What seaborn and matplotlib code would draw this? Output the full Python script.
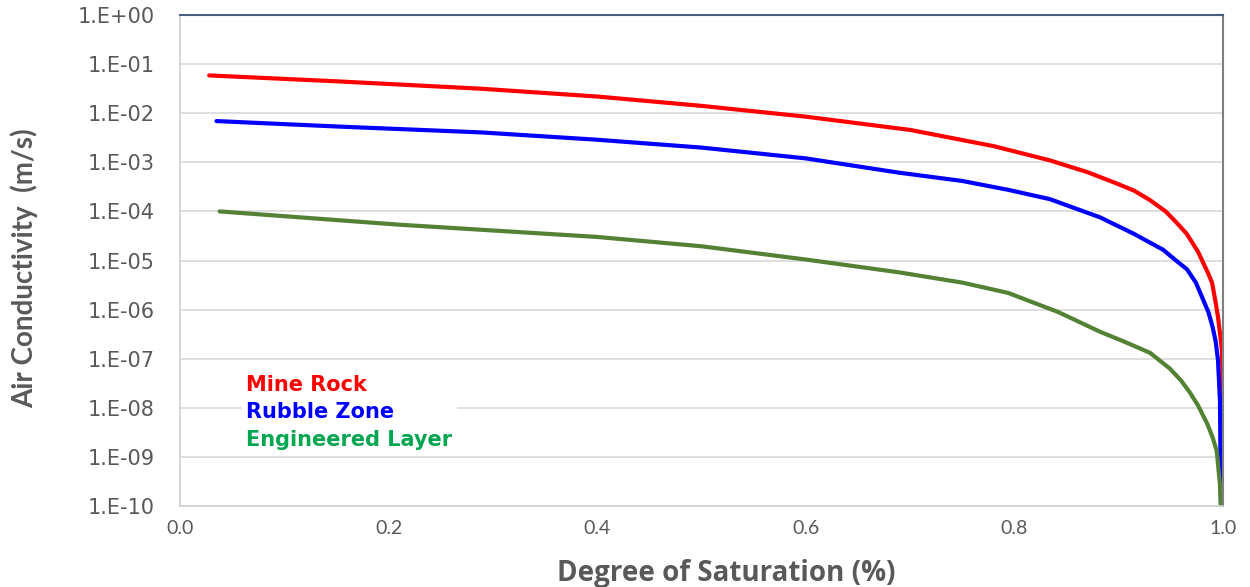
import matplotlib
matplotlib.use("Agg")
import matplotlib.pyplot as plt
import matplotlib.ticker as mticker
import numpy as np
import pandas as pd
import seaborn as sns

# degree of saturation (x) and log10 of air conductivity (y)
mine_rock_s = [0.028, 0.15, 0.288, 0.40, 0.50, 0.60, 0.70, 0.78, 0.834, 0.87,
               0.898, 0.915, 0.930, 0.945, 0.956, 0.965, 0.971, 0.976, 0.980,
               0.9855, 0.9895, 0.9925, 0.9952, 0.9972, 0.9990, 0.9997, 1.0]
mine_rock_log = [-1.23, -1.35, -1.50, -1.66, -1.85, -2.07, -2.34, -2.67, -2.96, -3.20,
                 -3.43, -3.58, -3.77, -4.00, -4.24, -4.45, -4.65, -4.82, -5.00,
                 -5.25, -5.45, -5.80, -6.15, -6.50, -6.83, -7.50, -10.0]

rubble_s = [0.035, 0.15, 0.288, 0.40, 0.50, 0.60, 0.689, 0.75, 0.794, 0.834,
            0.882, 0.914, 0.9425, 0.955, 0.9655, 0.974, 0.981, 0.986, 0.990,
            0.993, 0.9952, 0.9971, 0.998]
rubble_log = [-2.16, -2.27, -2.39, -2.54, -2.70, -2.92, -3.21, -3.38, -3.56, -3.75,
              -4.12, -4.45, -4.78, -5.00, -5.18, -5.45, -5.80, -6.05, -6.35,
              -6.65, -7.03, -7.85, -10.0]

engineered_s = [0.038, 0.21, 0.40, 0.50, 0.60, 0.689, 0.75, 0.794, 0.842, 0.882,
                0.905, 0.930, 0.949, 0.960, 0.968, 0.976, 0.985, 0.990, 0.994,
                0.997, 0.998]
engineered_log = [-4.00, -4.27, -4.52, -4.71, -4.98, -5.24, -5.45, -5.66, -6.05, -6.45,
                  -6.65, -6.88, -7.20, -7.45, -7.68, -7.95, -8.33, -8.60, -8.88,
                  -9.55, -10.0]

series_names = ["Mine Rock", "Rubble Zone", "Engineered Layer"]
line_colors = ["#ff0000", "#0000ff", "#548235"]
label_colors = ["#ff0000", "#0000ff", "#00a650"]

frames = []
for name, s, lg in zip(series_names,
                       [mine_rock_s, rubble_s, engineered_s],
                       [mine_rock_log, rubble_log, engineered_log]):
    frames.append(pd.DataFrame({"saturation": s,
                                "conductivity": 10.0 ** np.array(lg),
                                "material": name}))
df = pd.concat(frames, ignore_index=True)

sns.set_style("white")
grey = "#595959"

fig, ax = plt.subplots(figsize=(12.5, 5.87), dpi=100)
fig.subplots_adjust(left=0.144, right=0.9784, top=0.9744, bottom=0.138)

sns.lineplot(data=df, x="saturation", y="conductivity", hue="material",
             palette=dict(zip(series_names, line_colors)), hue_order=series_names,
             linewidth=3.0, sort=False, estimator=None, legend=False, ax=ax)

ax.set_yscale("log")
ax.set_ylim(1e-10, 1.0)
ax.set_xlim(0.0, 1.0)
ax.yaxis.set_major_locator(mticker.LogLocator(base=10, numticks=20))
ax.yaxis.set_minor_locator(mticker.NullLocator())
ax.yaxis.set_major_formatter(mticker.FuncFormatter(
    lambda v, p: "1.E%+03d" % int(round(np.log10(v)))))
ax.set_xticks(np.arange(0, 1.01, 0.2))
ax.xaxis.set_major_formatter(mticker.FormatStrFormatter("%.1f"))

ax.grid(axis="y", color="#d9d9d9", linewidth=1.2)
ax.grid(axis="x", visible=False)
ax.set_axisbelow(True)

for side in ["left", "bottom"]:
    ax.spines[side].set_color("#d0d0d0")
    ax.spines[side].set_linewidth(1.2)
ax.spines["top"].set_color("#4a5f80")
ax.spines["top"].set_linewidth(1.5)
ax.spines["right"].set_color("#7f7f7f")
ax.spines["right"].set_linewidth(1.5)

ax.tick_params(axis="y", length=0, pad=18, labelsize=15, labelcolor=grey)
ax.tick_params(axis="x", length=3, direction="in", color="#e0e0e0",
               pad=10, labelsize=14, labelcolor=grey)
for lbl in ax.get_yticklabels():
    lbl.set_family("DejaVu Sans")
for lbl in ax.get_xticklabels():
    lbl.set_family("Lato")

ax.set_xlabel("Degree of Saturation (%)", fontsize=20, fontweight="bold",
              family="Open Sans", color=grey)
ax.xaxis.set_label_coords(0.5235, -0.1365)
ax.xaxis.label.set_va("center")
ax.set_ylabel("Air Conductivity  (m/s)", fontsize=20, fontweight="bold",
              family="Lato", color=grey)
ax.yaxis.set_label_coords(-0.1496, 0.485)
ax.yaxis.label.set_va("center")

handles = [plt.Line2D([], [], color="none") for _ in series_names]
leg = ax.legend(handles, series_names, loc="upper left",
                bbox_to_anchor=(0.049, 0.297), handlelength=0, handletextpad=0,
                labelcolor=label_colors, frameon=True, framealpha=1.0,
                edgecolor="white", fancybox=False, labelspacing=0.37,
                prop={"family": "DejaVu Sans", "weight": "bold", "size": 15},
                borderpad=0.2)

fig.savefig("out.png", dpi=100)
